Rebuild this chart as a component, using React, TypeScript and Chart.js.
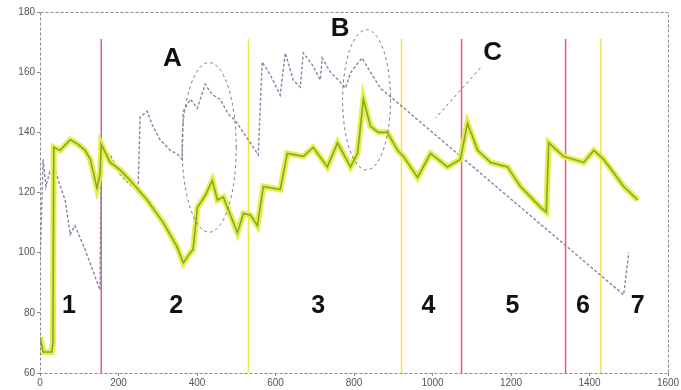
import { useEffect, useRef } from 'react';
import { Chart, registerables } from 'chart.js';

Chart.register(...registerables);

// Green/yellow trace
const GREEN_X = [0, 8, 30, 33, 35, 51, 77, 97, 115, 128, 145, 153, 156, 179, 204, 230, 273, 314, 349, 365, 383, 390, 401, 421, 439, 452, 467, 485, 503, 518, 536, 554, 569, 612, 630, 671, 696, 732, 758, 791, 809, 824, 842, 862, 885, 911, 926, 962, 995, 1038, 1071, 1089, 1115, 1148, 1191, 1224, 1276, 1290, 1296, 1334, 1385, 1411, 1436, 1462, 1487, 1523];
const GREEN_Y = [72, 67, 67, 70, 135, 134, 137.5, 136, 134, 131, 121.5, 126, 136, 130, 127.5, 124, 117.5, 110, 102, 96.6, 100, 101, 115, 119, 124, 117.5, 118.5, 112.5, 106.6, 113, 112.5, 109, 122, 121, 133, 132, 135, 128.5, 136.5, 128.5, 133, 151, 142, 140, 140, 134, 132, 125, 133, 128.5, 131, 143, 134, 130, 128.5, 122, 115, 113.5, 136.5, 132, 130, 134, 131, 126.5, 122, 117.5];

// Purple trace
const PURPLE_X = [0, 8, 15, 25, 38, 64, 77, 89, 115, 153, 156, 179, 204, 230, 250, 255, 273, 286, 306, 332, 352, 362, 365, 383, 401, 421, 439, 459, 480, 497, 523, 556, 566, 587, 612, 625, 645, 663, 671, 694, 714, 719, 740, 760, 778, 791, 806, 821, 834, 867, 1487, 1500];
const PURPLE_Y = [96, 131, 122, 127, 127.5, 117.5, 106, 109, 101, 87.6, 134, 132.5, 126, 122.5, 121, 145, 147, 142.5, 137.5, 134, 132.5, 131, 147, 151, 148, 156, 152.5, 151, 146, 144, 139, 132.5, 163.4, 159, 152.4, 166.4, 157.4, 155, 166.4, 162.4, 157.4, 164.7, 160, 157.4, 154.7, 159.7, 162.4, 164.7, 161.7, 154.7, 86, 100];

// Segment boundaries
const RED_MARKERS = [156, 1074, 1339];
const YELLOW_MARKERS = [531, 921, 1429];
const MARKER_TOP = 171;

// Segment numbers
const SEGMENT_LABELS = ['1', '2', '3', '4', '5', '6', '7'];
const SEGMENT_LABEL_X = [74, 347, 709, 990, 1204, 1383, 1523];
const SEGMENT_LABEL_Y = 82.3;

// Callouts
const CALLOUT_LABELS = ['A', 'B', 'C'];
const CALLOUT_X = [337, 765, 1153];
const CALLOUT_Y = [164.4, 174.3, 166.4];
const ELLIPSE_CX = [431, 832];
const ELLIPSE_CY = [135, 150.8];
const ELLIPSE_RX = [69, 61];
const ELLIPSE_RY = [28.2, 23.3];
const POINTER_C = [
  { x: 1122, y: 161.4 },
  { x: 1008, y: 144.8 },
];

const X_MIN = 0;
const X_MAX = 1600;
const Y_MIN = 60;
const Y_MAX = 180;

const toPoints = (xs: number[], ys: number[]) => xs.map((x, i) => ({ x, y: ys[i] }));

const markerDataset = (x: number, color: string) => ({
  type: 'line' as const,
  data: [
    { x, y: Y_MIN },
    { x, y: MARKER_TOP },
  ],
  borderColor: color,
  borderWidth: 1.5,
  pointRadius: 0,
  order: 5,
});

const overlayPlugin = {
  id: 'overlay',
  afterDatasetsDraw(chart: any) {
    const { ctx, chartArea, scales } = chart;
    const xs = scales.x;
    const ys = scales.y;
    ctx.save();

    // dashed frame
    ctx.strokeStyle = '#8a8a8a';
    ctx.lineWidth = 1;
    ctx.setLineDash([3, 2]);
    ctx.strokeRect(chartArea.left + 0.5, chartArea.top + 0.5, chartArea.right - chartArea.left, chartArea.bottom - chartArea.top);

    // ellipses and pointer
    ctx.strokeStyle = '#777';
    ctx.setLineDash([3, 3]);
    for (let i = 0; i < ELLIPSE_CX.length; i++) {
      const cx = xs.getPixelForValue(ELLIPSE_CX[i]);
      const cy = ys.getPixelForValue(ELLIPSE_CY[i]);
      const rx = Math.abs(xs.getPixelForValue(ELLIPSE_CX[i] + ELLIPSE_RX[i]) - cx);
      const ry = Math.abs(ys.getPixelForValue(ELLIPSE_CY[i] + ELLIPSE_RY[i]) - cy);
      ctx.beginPath();
      ctx.ellipse(cx, cy, rx, ry, 0, 0, Math.PI * 2);
      ctx.stroke();
    }
    ctx.beginPath();
    ctx.moveTo(xs.getPixelForValue(POINTER_C[0].x), ys.getPixelForValue(POINTER_C[0].y));
    ctx.lineTo(xs.getPixelForValue(POINTER_C[1].x), ys.getPixelForValue(POINTER_C[1].y));
    ctx.stroke();
    ctx.setLineDash([]);

    // labels
    ctx.fillStyle = '#111';
    ctx.textAlign = 'center';
    ctx.textBaseline = 'middle';
    ctx.font = 'bold 25px "Liberation Sans", Arial, sans-serif';
    SEGMENT_LABELS.forEach((t, i) => {
      ctx.fillText(t, xs.getPixelForValue(SEGMENT_LABEL_X[i]), ys.getPixelForValue(SEGMENT_LABEL_Y));
    });
    ctx.font = 'bold 26px "Liberation Sans", Arial, sans-serif';
    CALLOUT_LABELS.forEach((t, i) => {
      ctx.fillText(t, xs.getPixelForValue(CALLOUT_X[i]), ys.getPixelForValue(CALLOUT_Y[i]));
    });
    ctx.restore();
  },
};

export default function App() {
  const canvasRef = useRef<HTMLCanvasElement | null>(null);

  useEffect(() => {
    const canvas = canvasRef.current;
    if (!canvas) return;
    const chart = new Chart(canvas, {
      type: 'line',
      data: {
        datasets: [
          ...RED_MARKERS.map((x) => markerDataset(x, '#ec5c78')),
          ...YELLOW_MARKERS.map((x) => markerDataset(x, '#f2e54a')),
          {
            data: toPoints(PURPLE_X, PURPLE_Y),
            borderColor: '#8d80aa',
            borderWidth: 1.4,
            borderDash: [3, 2],
            pointRadius: 0,
            order: 3,
          },
          {
            data: toPoints(GREEN_X, GREEN_Y),
            borderColor: 'rgba(230,238,60,0.95)',
            borderWidth: 6,
            pointRadius: 0,
            order: 2,
          },
          {
            data: toPoints(GREEN_X, GREEN_Y),
            borderColor: '#7fa83a',
            borderWidth: 1.6,
            pointRadius: 0,
            order: 1,
          },
        ],
      },
      options: {
        responsive: false,
        animation: false,
        parsing: false as any,
        layout: { padding: { top: 12, right: 13, left: 0, bottom: 0 } },
        plugins: { legend: { display: false }, tooltip: { enabled: false } },
        scales: {
          x: {
            type: 'linear',
            min: X_MIN,
            max: X_MAX,
            border: { display: false },
            grid: { display: true, drawOnChartArea: false, drawTicks: true, tickLength: 3, color: '#888' },
            ticks: {
              stepSize: 200,
              padding: 1,
              color: '#555',
              font: { size: 10, family: '"Liberation Sans", Arial, sans-serif' },
              callback: (v: any) => String(v),
            },
            afterFit: (s: any) => {
              s.height = 17;
            },
          },
          y: {
            type: 'linear',
            min: Y_MIN,
            max: Y_MAX,
            border: { display: false },
            grid: { display: true, drawOnChartArea: false, drawTicks: true, tickLength: 3, color: '#888' },
            ticks: {
              stepSize: 20,
              padding: 2,
              color: '#555',
              font: { size: 10, family: '"Liberation Sans", Arial, sans-serif' },
              callback: (v: any) => String(v),
            },
            afterFit: (s: any) => {
              s.width = 40;
            },
          },
        },
      },
      plugins: [overlayPlugin],
    });
    return () => chart.destroy();
  }, []);

  return (
    <div style={{ position: 'fixed', left: 0, top: 0, width: 681, height: 390, background: '#fff' }}>
      <canvas ref={canvasRef} width={681} height={390} />
    </div>
  );
}
